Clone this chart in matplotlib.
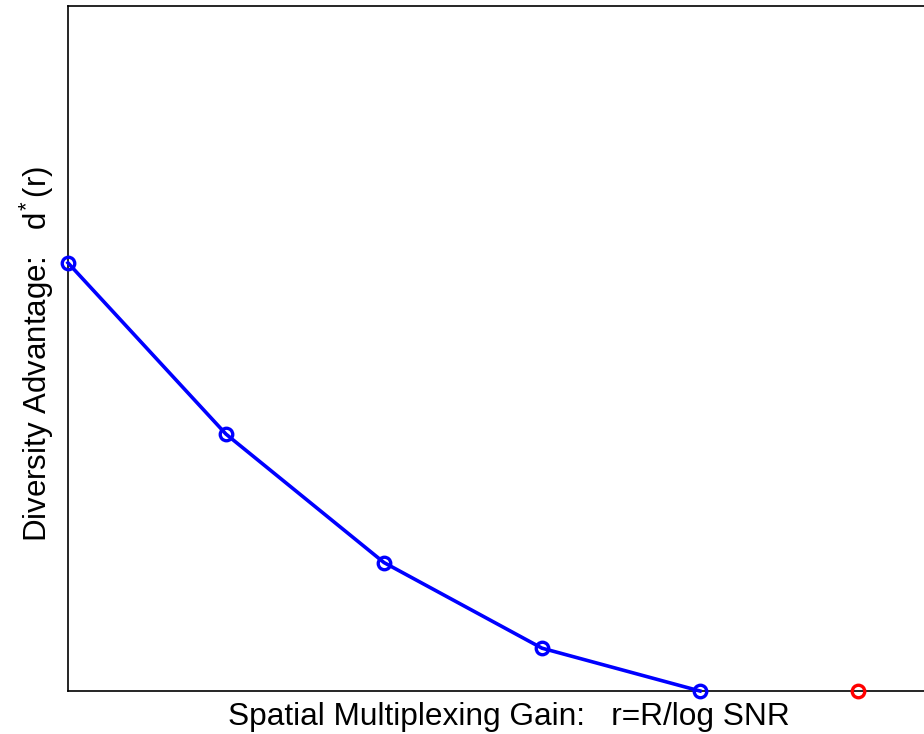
import matplotlib.pyplot as plt

plt.rcParams['font.family'] = ['Liberation Sans', 'DejaVu Sans']
plt.rcParams['mathtext.fontset'] = 'custom'
plt.rcParams['mathtext.rm'] = 'Liberation Sans'
plt.rcParams['mathtext.default'] = 'rm'

# optimal tradeoff curve d*(r) at integer multiplexing gains
r = [0, 1, 2, 3, 4]
d = [10, 6, 3, 1, 0]
# single-point end marker
r_end = [5]
d_end = [0]

fig = plt.figure(figsize=(9.24, 7.34), dpi=100)
ax = fig.add_axes([68 / 924, 43 / 734, 869 / 924, 685 / 734])

ax.plot(r, d, color='#0000ff', lw=2.6, marker='o', ms=9, mew=2.4,
        mfc='none', clip_on=False, zorder=3)
ax.plot(r_end, d_end, ls='none', color='#ff0000', marker='o', ms=9,
        mew=2.4, mfc='none', clip_on=False, zorder=3)

ax.set_xlim(0, 5.5)
ax.set_ylim(0, 16)
ax.set_xticks([])
ax.set_yticks([])
for s in ax.spines.values():
    s.set_linewidth(1.2)

fig.text(509 / 924, 17 / 734, 'Spatial Multiplexing Gain:   r=R/log SNR',
         ha='center', va='center', fontsize=22.8)
fig.text(37 / 924, 380 / 734, r'Diversity Advantage:   d$^{\!*}$(r)',
         ha='center', va='center', rotation=90, fontsize=22.5)

fig.savefig('out.png', dpi=100)
